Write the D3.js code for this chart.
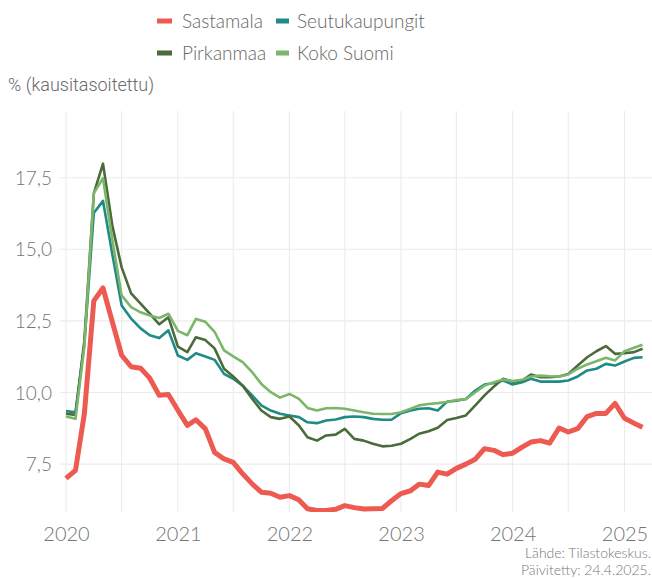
<!DOCTYPE html>
<html><head><meta charset="utf-8">
<script src="https://cdn.jsdelivr.net/npm/d3@7"></script>
<style>html,body{margin:0;padding:0;background:#fff;}svg{display:block;}</style>
</head><body><svg id="c" width="652" height="578"></svg>
<script>
const seriesNames = ["Sastamala", "Seutukaupungit", "Pirkanmaa", "Koko Suomi"];
const seriesColors = ["#ec5a51", "#1f8b84", "#4b6b3b", "#7bb66b"];
const startMonth = "2020-01";
const sastamala = [7.0,7.28,9.25,13.2,13.65,12.45,11.3,10.9,10.85,10.5,9.9,9.93,
  9.38,8.85,9.05,8.73,7.91,7.68,7.56,7.16,6.81,6.52,6.48,6.34,
  6.4,6.25,5.94,5.88,5.88,5.92,6.05,5.98,5.93,5.94,5.95,6.22,
  6.47,6.57,6.8,6.75,7.22,7.15,7.35,7.5,7.67,8.04,7.98,7.83,
  7.88,8.09,8.27,8.32,8.23,8.76,8.62,8.74,9.16,9.27,9.27,9.62,
  9.1,8.93,8.79];
const seutukaupungit = [9.35,9.31,11.7,16.27,16.69,14.8,13.04,12.58,12.24,12.0,11.9,12.17,
  11.29,11.14,11.37,11.26,11.14,10.65,10.48,10.24,9.9,9.55,9.37,9.26,
  9.2,9.14,8.96,8.93,9.02,9.06,9.14,9.16,9.14,9.08,9.05,9.05,
  9.28,9.37,9.43,9.45,9.37,9.68,9.71,9.77,10.07,10.28,10.33,10.42,
  10.28,10.36,10.48,10.38,10.38,10.38,10.42,10.56,10.77,10.83,11.0,10.94,
  11.08,11.21,11.23];
const pirkanmaa = [9.26,9.22,11.8,16.95,17.99,15.8,14.37,13.46,13.1,12.75,12.38,12.63,
  11.6,11.41,11.93,11.83,11.54,10.83,10.56,10.24,9.78,9.37,9.14,9.08,
  9.16,8.85,8.44,8.32,8.5,8.53,8.73,8.38,8.32,8.21,8.12,8.14,
  8.21,8.38,8.56,8.65,8.77,9.04,9.11,9.2,9.55,9.9,10.21,10.48,
  10.38,10.42,10.63,10.53,10.53,10.56,10.65,10.94,11.23,11.44,11.62,11.35,
  11.37,11.41,11.53];
const kokoSuomi = [9.16,9.08,11.6,16.96,17.48,15.3,13.39,12.98,12.8,12.69,12.6,12.75,
  12.15,12.0,12.57,12.47,12.12,11.47,11.26,11.06,10.71,10.3,10.01,9.82,
  9.95,9.78,9.46,9.37,9.45,9.46,9.43,9.37,9.31,9.26,9.25,9.25,
  9.31,9.43,9.55,9.6,9.63,9.67,9.74,9.77,10.01,10.24,10.36,10.45,
  10.4,10.44,10.56,10.59,10.57,10.56,10.63,10.83,10.98,11.09,11.21,11.12,
  11.44,11.56,11.67];
const yTicks = [7.5, 10, 12.5, 15, 17.5];
const xTickYears = [2020, 2021, 2022, 2023, 2024, 2025];
const yTitle = "% (kausitasoitettu)";
const captionLines = ["Lähde: Tilastokeskus.", "Päivitetty: 24.4.2025."];

const allSeries = [sastamala, seutukaupungit, pirkanmaa, kokoSuomi];
const parseM = d3.timeParse("%Y-%m");
const t0 = parseM(startMonth);
const dates = sastamala.map((_, i) => d3.timeMonth.offset(t0, i));

const svg = d3.select("#c");
const panel = {left: 60, right: 652, top: 111, bottom: 512};
const x = d3.scaleTime().domain([new Date(2020,0,1), new Date(2025,0,1)]).range([66, 624.5]);
const y = d3.scaleLinear().domain([10, 17.5]).range([392.5, 177.7]);

svg.append("defs").append("clipPath").attr("id","clip").append("rect")
  .attr("x", panel.left).attr("y", panel.top)
  .attr("width", panel.right - panel.left).attr("height", panel.bottom - panel.top);

// grid
const grid = svg.append("g");
const vLines = [];
xTickYears.forEach(yr => { vLines.push(new Date(yr,0,1)); vLines.push(new Date(yr,6,1)); });
grid.selectAll("line.v").data(vLines.filter(d => x(d) <= panel.right)).enter().append("line")
  .attr("x1", d => x(d)).attr("x2", d => x(d)).attr("y1", panel.top).attr("y2", panel.bottom)
  .attr("stroke", "#ebebeb").attr("stroke-width", 1.1);
grid.selectAll("line.h").data(yTicks).enter().append("line")
  .attr("x1", panel.left).attr("x2", panel.right).attr("y1", d => y(d)).attr("y2", d => y(d))
  .attr("stroke", "#ebebeb").attr("stroke-width", 1.1);

// axes (text only)
const fmt = d3.format(".1f");
const yAxis = d3.axisLeft(y).tickValues(yTicks).tickSize(0).tickPadding(0)
  .tickFormat(d => fmt(d).replace(".", ","));
const yg = svg.append("g").attr("transform", "translate(52,0)").call(yAxis);
yg.select(".domain").remove();
yg.selectAll("text").attr("font-family", "Lato").attr("font-weight", 300)
  .attr("font-size", 19).attr("fill", "#757575").attr("dy", "0.35em");

const xAxis = d3.axisBottom(x).tickValues(xTickYears.map(yr => new Date(yr,0,1)))
  .tickSize(0).tickPadding(0).tickFormat(d3.timeFormat("%Y"));
const xg = svg.append("g").attr("transform", "translate(0,527)").call(xAxis);
xg.select(".domain").remove();
xg.selectAll("text").attr("font-family", "Lato").attr("font-weight", 300)
  .attr("font-size", 20).attr("fill", "#757575").attr("dy", "0.71em");

// lines
const line = d3.line().x((d, i) => x(dates[i])).y(d => y(d));
const lg = svg.append("g").attr("clip-path", "url(#clip)");
allSeries.forEach((s, k) => {
  lg.append("path").datum(s).attr("d", line).attr("fill", "none")
    .attr("stroke", seriesColors[k]).attr("stroke-width", k === 0 ? 5 : 2.6)
    .attr("stroke-linejoin", "round").attr("stroke-linecap", "butt");
});

// legend
const leg = svg.append("g");
const legKey = [[157, 21, 15], [276, 21, 13], [157, 53, 15], [276, 53, 13]];
const legText = [182, 297, 182, 297];
seriesNames.forEach((n, k) => {
  const [lx, ly, w] = legKey[k];
  leg.append("rect").attr("x", lx).attr("y", ly - 2.5).attr("width", w).attr("height", 5)
    .attr("fill", seriesColors[k]);
  leg.append("text").attr("x", legText[k]).attr("y", ly).attr("dy", "0.35em")
    .attr("font-family", "Lato").attr("font-weight", 300).attr("font-size", 19)
    .attr("fill", "#666").text(n);
});

// y title
svg.append("text").attr("x", 8).attr("y", 91).attr("font-family", "Roboto")
  .attr("font-weight", 300).attr("font-size", 18).attr("fill", "#6a6a6a").text(yTitle);

// caption
captionLines.forEach((t, i) => {
  svg.append("text").attr("x", 651).attr("y", 558 + i * 17).attr("text-anchor", "end")
    .attr("font-family", "Lato").attr("font-weight", 300).attr("font-size", 14)
    .attr("fill", "#777").text(t);
});
</script></body></html>
